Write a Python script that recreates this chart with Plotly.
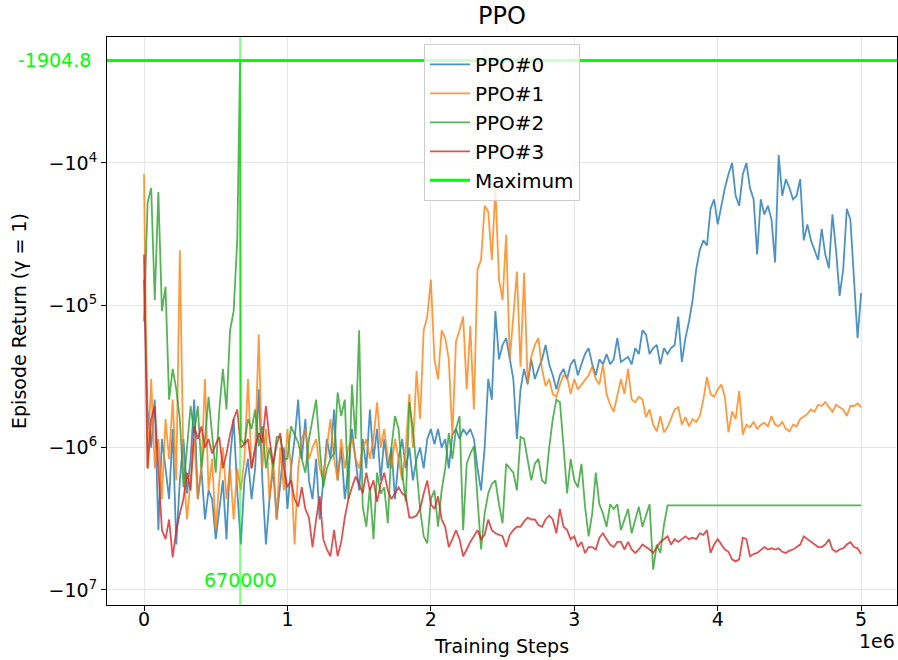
import math
import plotly.graph_objects as go

# Evaluation returns logged every 25k training steps for four PPO seeds
STEPS = list(range(0, 5_000_001, 25_000))

PPO0 = [
    -6.6e4, -5.4e5, -1.0e6, -4.6e5, -3.8e6, -8.7e5, -1.4e6, -2.3e6, -7.4e5, -4.8e6,
    -1.7e6, -8.7e5, -2.1e6, -1.2e6, -4.6e5, -2.3e6, -1.4e6, -3.2e6, -2.0e6, -2.3e6,
    -4.4e6, -2.7e6, -1.7e6, -4.4e6, -1.2e6, -6.3e5, -2.0e6, -4.8e6, -1.7e6, -1.2e6,
    -2.3e6, -1.4e6, -3.9e5, -1.7e6, -4.8e6, -2.3e6, -1.4e6, -3.2e6, -1.7e6, -1.0e6,
    -2.7e6, -1.4e6, -8.7e5, -4.6e5, -1.2e6, -6.3e5, -1.7e6, -2.3e6, -1.2e6, -3.2e6,
    -1.7e6, -8.7e5, -1.2e6, -5.4e5, -1.7e6, -1.0e6, -2.3e6, -1.4e6, -7.4e5, -1.2e6,
    -2.0e6, -8.7e5, -1.4e6, -5.4e5, -1.2e6, -7.4e5, -1.7e6, -8.7e5, -1.4e6, -1.0e6,
    -2.3e6, -1.2e6, -8.7e5, -1.4e6, -1.0e6, -1.7e6, -1.2e6, -1.0e6, -1.4e6, -8.7e5,
    -7.4e5, -9.5e5, -7.4e5, -1.0e6, -8.7e5, -1.4e6, -8.1e5, -7.4e5, -8.7e5, -7.4e5,
    -8.1e5, -7.4e5, -8.7e5, -1.4e6, -2.0e6, -1.0e6, -3.3e5, -4.6e5, -1.1e5, -2.4e5,
    -1.9e5, -1.7e5, -2.4e5, -3.3e5, -8.7e5, -3.9e5, -2.8e5, -3.6e5, -2.4e5, -3.3e5,
    -2.8e5, -2.4e5, -1.9e5, -2.6e5, -3.1e5, -3.9e5, -3.1e5, -2.8e5, -3.3e5, -2.6e5,
    -2.4e5, -3.1e5, -2.6e5, -2.2e5, -2.0e5, -2.6e5, -3.1e5, -2.4e5, -2.6e5, -2.2e5,
    -2.6e5, -2.4e5, -1.7e5, -2.5e5, -2.4e5, -2.3e5, -2.6e5, -2.0e5, -2.2e5, -1.5e5,
    -1.6e5, -2.2e5, -2.0e5, -1.9e5, -2.6e5, -2.0e5, -2.2e5, -2.0e5, -1.9e5, -1.2e5,
    -2.5e5, -1.7e5, -1.3e5, -9.2e4, -5.6e4, -4.1e4, -3.5e4, -3.8e4, -2.1e4, -1.8e4,
    -2.7e4, -2.0e4, -1.5e4, -1.2e4, -1.0e4, -1.7e4, -2.0e4, -1.2e4, -1.0e4, -1.5e4,
    -1.8e4, -4.4e4, -1.8e4, -2.3e4, -2.0e4, -2.5e4, -5.0e4, -8.8e3, -1.7e4, -1.3e4,
    -1.5e4, -1.8e4, -1.7e4, -1.3e4, -3.5e4, -2.7e4, -3.5e4, -4.1e4, -4.8e4, -2.9e4,
    -4.4e4, -5.5e4, -2.3e4, -4.1e4, -8.6e4, -5.6e4, -2.1e4, -2.5e4, -6.6e4, -1.7e5,
    -8.2e4,
]

PPO1 = [
    -1.2e4, -1.4e6, -3.3e5, -1.4e6, -8.7e5, -2.3e6, -6.3e5, -1.2e6, -4.6e5, -1.7e6,
    -4.1e4, -1.4e6, -3.2e6, -1.7e6, -8.7e5, -2.3e6, -1.4e6, -3.3e5, -2.0e6, -1.2e6,
    -3.8e6, -1.7e6, -1.0e6, -2.3e6, -1.4e6, -3.2e6, -1.4e6, -2.0e6, -1.2e6, -3.3e5,
    -1.4e6, -1.0e6, -1.6e5, -1.4e6, -7.4e5, -2.3e6, -1.2e6, -3.2e6, -1.0e6, -2.0e6,
    -7.4e5, -1.4e6, -4.8e6, -1.4e6, -8.7e5, -7.4e5, -1.2e6, -1.0e6, -8.7e5, -1.4e6,
    -1.7e6, -1.0e6, -6.3e5, -1.2e6, -1.7e6, -8.7e5, -1.4e6, -1.0e6, -8.7e5, -1.2e6,
    -1.4e6, -1.0e6, -8.7e5, -1.2e6, -8.7e5, -4.8e5, -1.0e6, -7.4e5, -1.2e6, -1.4e6,
    -8.7e5, -1.2e6, -1.7e6, -1.0e6, -4.2e5, -1.0e6, -2.9e5, -6.3e5, -1.5e5, -1.2e5,
    -6.6e4, -2.4e5, -3.3e5, -1.5e5, -1.7e5, -2.4e5, -8.4e5, -1.8e5, -1.5e5, -1.2e5,
    -3.9e5, -1.4e5, -5.4e5, -5.6e4, -4.8e4, -2.0e4, -2.2e4, -4.8e4, -1.5e4, -6.6e4,
    -9.2e4, -3.2e4, -2.4e5, -1.2e5, -5.8e4, -2.7e5, -5.9e4, -3.5e5, -2.3e5, -1.9e5,
    -1.7e5, -2.8e5, -3.7e5, -3.3e5, -4.2e5, -4.4e5, -3.6e5, -3.1e5, -3.2e5, -4.2e5,
    -3.3e5, -3.9e5, -3.6e5, -3.3e5, -3.1e5, -2.7e5, -3.3e5, -3.6e5, -2.6e5, -4.2e5,
    -5.0e5, -5.6e5, -4.2e5, -3.3e5, -4.2e5, -2.8e5, -4.6e5, -4.8e5, -4.4e5, -4.6e5,
    -6.1e5, -5.4e5, -6.9e5, -7.7e5, -6.0e5, -7.8e5, -7.2e5, -6.3e5, -5.4e5, -5.2e5,
    -6.9e5, -6.1e5, -7.1e5, -6.3e5, -6.6e5, -6.0e5, -4.6e5, -3.2e5, -4.2e5, -4.4e5,
    -3.9e5, -3.6e5, -4.4e5, -7.8e5, -5.6e5, -6.3e5, -4.0e5, -8.1e5, -6.9e5, -7.2e5,
    -6.6e5, -7.4e5, -6.9e5, -6.7e5, -7.1e5, -6.0e5, -6.9e5, -7.1e5, -6.6e5, -7.4e5,
    -7.7e5, -6.9e5, -7.1e5, -6.3e5, -6.0e5, -5.8e5, -5.4e5, -5.6e5, -5.0e5, -5.1e5,
    -4.8e5, -5.2e5, -5.6e5, -5.0e5, -5.2e5, -5.4e5, -6.0e5, -5.1e5, -5.1e5, -4.9e5,
    -5.2e5,
]

PPO2 = [
    -1.3e5, -1.9e4, -1.5e4, -9.2e4, -1.6e4, -1.1e5, -7.4e4, -4.6e5, -2.8e5, -3.9e5,
    -6.3e5, -1.9e6, -1.0e6, -5.1e5, -7.9e5, -5.1e5, -1.4e6, -8.7e5, -4.4e5, -8.4e5,
    -1.5e6, -5.4e5, -2.8e5, -5.4e5, -1.5e5, -1.1e5, -3.5e4, -8.7e5, -9.5e5, -6.3e5,
    -7.4e5, -5.4e5, -9.8e5, -7.1e5, -1.4e6, -1.0e6, -1.4e6, -8.4e5, -8.4e5, -1.2e6,
    -1.2e6, -7.1e5, -8.1e5, -9.2e5, -1.2e6, -1.5e6, -8.7e5, -6.3e5, -4.6e5, -1.0e6,
    -1.9e6, -1.4e6, -1.2e6, -1.1e6, -4.1e5, -6.0e5, -4.6e5, -2.3e6, -3.6e5, -8.7e5,
    -1.5e5, -2.6e6, -3.6e6, -1.9e6, -4.4e6, -1.5e6, -2.1e6, -1.9e6, -3.4e6, -1.0e6,
    -6.0e5, -7.4e5, -1.5e6, -2.4e6, -4.8e5, -7.4e5, -1.4e6, -2.7e6, -4.2e6, -4.7e6,
    -2.3e6, -2.0e6, -3.6e6, -2.0e6, -1.4e6, -7.9e5, -1.2e6, -7.4e5, -6.0e5, -3.8e6,
    -1.3e6, -1.1e6, -9.8e5, -2.3e6, -5.2e6, -2.9e6, -2.1e6, -1.8e6, -1.7e6, -2.5e6,
    -3.4e6, -1.3e6, -1.4e6, -1.5e6, -2.0e6, -8.4e5, -8.7e5, -1.2e6, -1.7e6, -1.3e6,
    -1.2e6, -1.7e6, -1.8e6, -1.0e6, -6.3e5, -4.6e5, -4.8e5, -9.8e5, -2.1e6, -1.2e6,
    -1.7e6, -1.9e6, -1.3e6, -2.6e6, -4.2e6, -2.9e6, -1.5e6, -2.5e6, -2.9e6, -3.6e6,
    -2.5e6, -2.7e6, -2.5e6, -3.8e6, -3.2e6, -2.7e6, -4.0e6, -3.2e6, -2.6e6, -3.6e6,
    -3.0e6, -2.5e6, -7.2e6, -4.8e6, -5.5e6, -3.5e6, -2.55e6, -2.55e6, -2.55e6, -2.55e6,
    -2.55e6, -2.55e6, -2.55e6, -2.55e6, -2.55e6, -2.55e6, -2.55e6, -2.55e6, -2.55e6, -2.55e6,
    -2.55e6, -2.55e6, -2.55e6, -2.55e6, -2.55e6, -2.55e6, -2.55e6, -2.55e6, -2.55e6, -2.55e6,
    -2.55e6, -2.55e6, -2.55e6, -2.55e6, -2.55e6, -2.55e6, -2.55e6, -2.55e6, -2.55e6, -2.55e6,
    -2.55e6, -2.55e6, -2.55e6, -2.55e6, -2.55e6, -2.55e6, -2.55e6, -2.55e6, -2.55e6, -2.55e6,
    -2.55e6, -2.55e6, -2.55e6, -2.55e6, -2.55e6, -2.55e6, -2.55e6, -2.55e6, -2.55e6, -2.55e6,
    -2.55e6,
]
# single off-grid evaluation of seed #2 (its best episode)
PPO2_EXTRA_STEP = 670_000
PPO2_EXTRA_RETURN = -1904.8

PPO3 = [
    -4.4e4, -1.4e6, -6.3e5, -5.1e5, -1.4e6, -3.8e6, -4.4e6, -3.2e6, -5.9e6, -3.8e6,
    -2.9e6, -2.3e6, -1.5e6, -2.0e6, -7.1e5, -8.7e5, -7.1e5, -1.0e6, -8.7e5, -1.1e6,
    -9.5e5, -8.4e5, -1.4e6, -1.1e6, -8.1e5, -6.3e5, -5.4e5, -1.0e6, -9.5e5, -8.7e5,
    -1.4e6, -1.0e6, -7.9e5, -9.2e5, -5.1e5, -8.7e5, -1.3e6, -9.5e5, -7.9e5, -1.4e6,
    -1.9e6, -1.7e6, -2.3e6, -2.6e6, -1.9e6, -2.7e6, -3.1e6, -5.0e6, -3.2e6, -2.2e6,
    -4.4e6, -5.2e6, -5.8e6, -3.8e6, -5.8e6, -4.6e6, -3.1e6, -2.3e6, -1.9e6, -1.6e6,
    -1.8e6, -2.1e6, -1.5e6, -2.0e6, -1.7e6, -2.4e6, -1.8e6, -1.5e6, -2.0e6, -2.3e6,
    -2.1e6, -1.9e6, -2.1e6, -2.2e6, -3.1e6, -3.1e6, -3.0e6, -2.7e6, -2.1e6, -1.7e6,
    -2.5e6, -2.7e6, -2.2e6, -3.2e6, -3.6e6, -5.0e6, -4.4e6, -3.8e6, -4.4e6, -5.8e6,
    -5.2e6, -4.6e6, -4.2e6, -3.8e6, -4.4e6, -4.1e6, -3.2e6, -3.8e6, -4.0e6, -4.1e6,
    -4.2e6, -5.0e6, -4.1e6, -3.8e6, -3.6e6, -3.6e6, -3.3e6, -3.1e6, -3.2e6, -3.2e6,
    -3.5e6, -3.6e6, -3.2e6, -3.0e6, -3.2e6, -4.0e6, -2.7e6, -3.6e6, -3.8e6, -4.4e6,
    -4.2e6, -5.0e6, -4.6e6, -5.5e6, -5.0e6, -5.0e6, -5.2e6, -4.3e6, -4.0e6, -4.4e6,
    -4.8e6, -5.0e6, -4.6e6, -4.6e6, -5.2e6, -4.6e6, -5.2e6, -5.5e6, -5.2e6, -4.8e6,
    -5.0e6, -5.2e6, -5.5e6, -5.0e6, -4.6e6, -4.4e6, -4.2e6, -4.8e6, -4.4e6, -4.6e6,
    -4.4e6, -4.2e6, -4.4e6, -4.3e6, -4.4e6, -4.0e6, -4.1e6, -3.8e6, -5.5e6, -4.8e6,
    -4.4e6, -4.8e6, -5.2e6, -5.4e6, -6.1e6, -6.3e6, -6.1e6, -4.3e6, -4.4e6, -5.8e6,
    -5.6e6, -5.5e6, -5.2e6, -5.0e6, -5.2e6, -5.1e6, -5.2e6, -5.1e6, -5.4e6, -5.5e6,
    -5.3e6, -5.2e6, -5.0e6, -4.8e6, -4.2e6, -4.4e6, -4.6e6, -4.8e6, -5.0e6, -5.0e6,
    -4.8e6, -4.4e6, -5.2e6, -5.4e6, -5.2e6, -5.1e6, -4.8e6, -4.6e6, -5.0e6, -5.1e6,
    -5.6e6,
]

SERIES_NAMES = ["PPO#0", "PPO#1", "PPO#2", "PPO#3"]
COLORS = ["rgba(31,119,180,0.8)", "rgba(255,127,14,0.8)",
          "rgba(44,160,44,0.8)", "rgba(214,39,40,0.8)"]
Y_TICKS = [1e4, 1e5, 1e6, 1e7]
X_TICKS = [0, 1e6, 2e6, 3e6, 4e6, 5e6]

# assemble (steps, returns) per run
ppo2_pts = sorted(list(zip(STEPS, PPO2)) + [(PPO2_EXTRA_STEP, PPO2_EXTRA_RETURN)])
runs = [
    (STEPS, PPO0),
    (STEPS, PPO1),
    ([p[0] for p in ppo2_pts], [p[1] for p in ppo2_pts]),
    (STEPS, PPO3),
]

# overall best episode across all runs
best_step, best_ret = None, -math.inf
for xs, ys in runs:
    for s, r in zip(xs, ys):
        if r > best_ret:
            best_step, best_ret = s, r

FONT = "DejaVu Sans"
FS = 19
LIME = "#00ff00"

fig = go.Figure()
for (xs, ys), name, col in zip(runs, SERIES_NAMES, COLORS):
    # returns are negative: plot their magnitude on a reversed log axis
    fig.add_trace(go.Scatter(x=xs, y=[-v for v in ys], mode="lines", name=name,
                             line=dict(color=col, width=1.8)))
# legend entry for the maximum line (line itself is a shape)
fig.add_trace(go.Scatter(x=[None], y=[None], mode="lines", name="Maximum",
                         line=dict(color=LIME, width=3)))

x_lo, x_hi = -0.258e6, 5.25e6
y_top, y_bot = 3.115, 7.106

fig.add_shape(type="line", xref="paper", x0=0, x1=1, yref="y",
              y0=-best_ret, y1=-best_ret, line=dict(color=LIME, width=3), layer="above")
fig.add_shape(type="line", xref="x", x0=best_step, x1=best_step, yref="paper",
              y0=0, y1=1, line=dict(color="rgba(0,255,0,0.5)", width=2), layer="above")

fig.add_annotation(xref="paper", x=-0.018, xanchor="right", yref="y",
                   y=math.log10(-best_ret), yanchor="middle",
                   text=f"{best_ret:.1f}", showarrow=False,
                   font=dict(family=FONT, size=FS, color=LIME))
fig.add_annotation(xref="x", x=best_step, xanchor="center", yref="paper",
                   y=0.022, yanchor="bottom", text=f"{best_step}", showarrow=False,
                   font=dict(family=FONT, size=FS, color=LIME))
fig.add_annotation(xref="paper", x=1, xanchor="right", yref="paper", y=-0.063,
                   yanchor="middle", text="1e6", showarrow=False,
                   font=dict(family=FONT, size=FS, color="black"))

axis_common = dict(showline=True, mirror=True, linecolor="black", linewidth=1.2,
                   ticks="outside", ticklen=5, tickcolor="black", tickwidth=1.2,
                   showgrid=True, gridcolor="#e6e6e6", gridwidth=1, zeroline=False,
                   tickfont=dict(family=FONT, size=FS, color="black"))

fig.update_xaxes(range=[x_lo, x_hi], tickvals=X_TICKS,
                 ticktext=[f"{v/1e6:g}" for v in X_TICKS],
                 ticklabelstandoff=-8,
                 title=dict(text="Training Steps", standoff=10,
                            font=dict(family=FONT, size=FS, color="black")),
                 **axis_common)
fig.update_yaxes(type="log", range=[y_bot, y_top], tickvals=Y_TICKS,
                 ticktext=[f"\u221210<sup>{int(round(math.log10(v)))}</sup>" for v in Y_TICKS],
                 title=dict(text="Episode Return (\u03b3 = 1)", standoff=16,
                            font=dict(family=FONT, size=FS, color="black")),
                 **axis_common)

fig.update_layout(
    width=898, height=660,
    margin=dict(l=107, r=1, t=37, b=55),
    paper_bgcolor="white", plot_bgcolor="white",
    font=dict(family=FONT, size=FS, color="black"),
    title=dict(text="PPO", x=0.5, xref="paper", xanchor="center",
               y=0.977, yanchor="middle", font=dict(family=FONT, size=24, color="black")),
    showlegend=True,
    legend=dict(x=0.5, xanchor="center", y=0.988, yanchor="top",
                bgcolor="rgba(255,255,255,0.8)", bordercolor="#cccccc", borderwidth=1,
                font=dict(family=FONT, size=20, color="black"), itemwidth=40,
                tracegroupgap=0),
)

fig.write_html("out.html")
